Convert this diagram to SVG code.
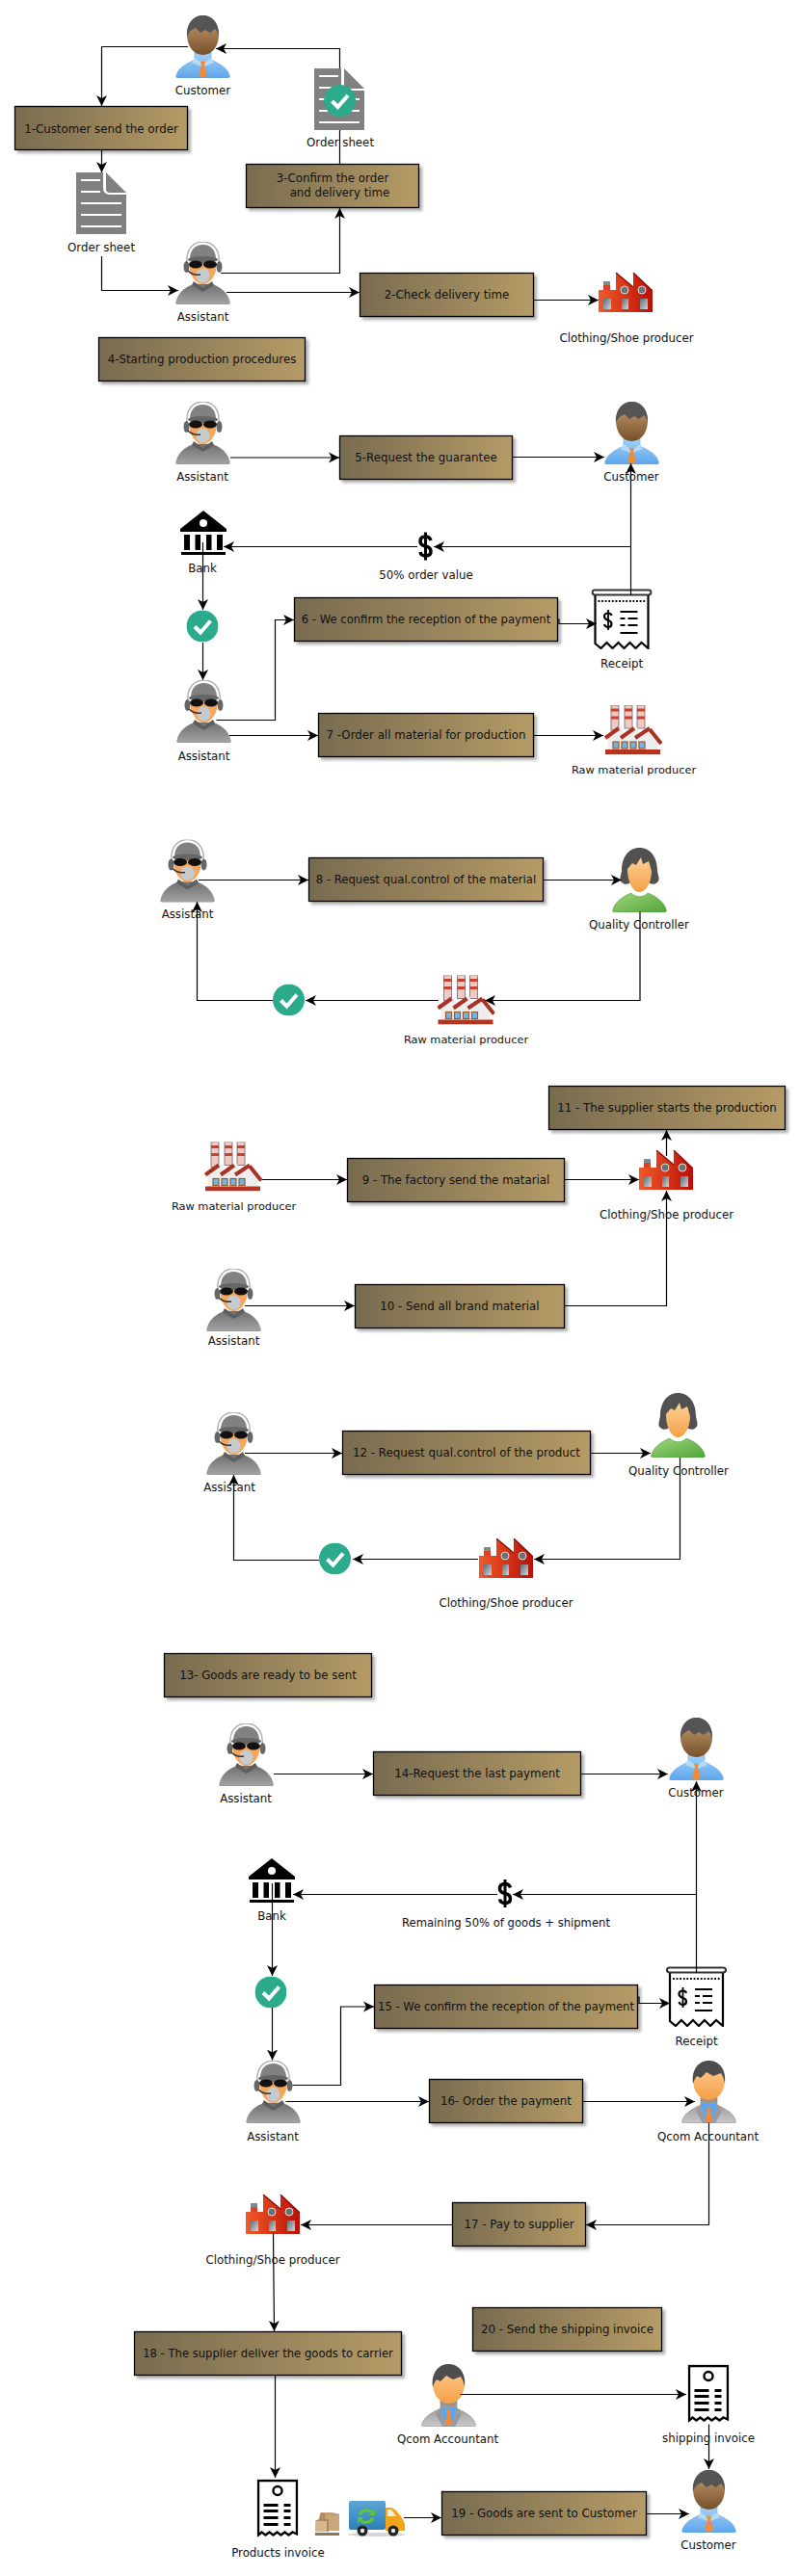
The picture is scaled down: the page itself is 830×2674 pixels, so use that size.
<svg xmlns="http://www.w3.org/2000/svg" width="830" height="2674" viewBox="0 0 830 2674">
<style>
text{font-family:"DejaVu Sans","Liberation Sans",sans-serif;font-size:11.8px;fill:#111;text-anchor:middle}
text.s{font-size:11.6px}
text.r{font-size:11.35px}
.box{fill:url(#boxG);stroke:#000;stroke-width:1.3;filter:url(#sh)}
.e{fill:none;stroke:#000;stroke-width:1.2;marker-end:url(#ah)}
</style>
<defs>
<linearGradient id="boxG"><stop offset="0" stop-color="#786b50"/><stop offset="1" stop-color="#b59b66"/></linearGradient>
<linearGradient id="blue" x1="0" y1="0" x2="0" y2="1"><stop offset="0" stop-color="#a5d2f5"/><stop offset="1" stop-color="#5da5ec"/></linearGradient>
<linearGradient id="brown" x1="0" y1="0" x2="0" y2="1"><stop offset="0" stop-color="#c9a070"/><stop offset="1" stop-color="#76502e"/></linearGradient>
<linearGradient id="orange" x1="0" y1="0" x2="0" y2="1"><stop offset="0" stop-color="#fdd098"/><stop offset="1" stop-color="#f59f45"/></linearGradient>
<linearGradient id="grey" x1="0" y1="0" x2="0" y2="1"><stop offset="0" stop-color="#6f6f6f"/><stop offset="1" stop-color="#a4a4a4"/></linearGradient>
<linearGradient id="jacket" x1="0" y1="0" x2="0" y2="1"><stop offset="0" stop-color="#8d8d8d"/><stop offset="1" stop-color="#c8c8c8"/></linearGradient>
<linearGradient id="green" x1="0" y1="0" x2="1" y2="1"><stop offset="0" stop-color="#a3d57c"/><stop offset="1" stop-color="#4ea53a"/></linearGradient>
<linearGradient id="red" x1="0" y1="0" x2="1" y2="0"><stop offset="0" stop-color="#f05a28"/><stop offset="1" stop-color="#b90f08"/></linearGradient>
<linearGradient id="pane" x1="0" y1="0" x2="1" y2="1"><stop offset="0" stop-color="#5d6b74"/><stop offset="1" stop-color="#cfd8dc"/></linearGradient>
<linearGradient id="cargo" x1="0" y1="0" x2="0" y2="1"><stop offset="0" stop-color="#5aa5d4"/><stop offset="1" stop-color="#2f7fb5"/></linearGradient>
<filter id="sh" x="-5%" y="-10%" width="112%" height="135%"><feDropShadow dx="3" dy="3" stdDeviation="1.8" flood-color="#000" flood-opacity=".3"/></filter>
<marker id="ah" markerUnits="userSpaceOnUse" markerWidth="12" markerHeight="12" viewBox="0 0 12 12" refX="11" refY="6" orient="auto"><path d="M0 .5 11 6 0 11.500 3 6Z" fill="#000"/></marker>

<symbol id="customer" viewBox="0 0 57 65">
<path d="M1 62C3 54 12 50 20 46V38H37V46C45 50 54 54 56 62 57 64 56 65 54 65H3C1 65 0 64 1 62Z" fill="url(#blue)" stroke="#6aa5dc" stroke-width=".6"/>
<path d="M20 44 28.500 50 37 44 40 49 30 53H27L17 49Z" fill="#b5daf6"/>
<path d="M26 48H31L30 52 33 62 28.500 65 24 62 27 52Z" fill="#f08a3c"/>
<path d="M12 20C12 8 19 0 28.500 0S45 8 45 20C45 32 38 41 28.500 41S12 32 12 20Z" fill="url(#brown)"/>
<path d="M12 22C11 8 19 0 28.500 0S46 8 45 22C44 18 43 16 41 14L36 18 31 15 26 18 21 13 17 15C14 17 13 20 12 22Z" fill="#555"/>
</symbol>
<symbol id="accountant" viewBox="0 0 57 65">
<path d="M1 62C3 54 12 50 20 46V38H37V46C45 50 54 54 56 62 57 64 56 65 54 65H3C1 65 0 64 1 62Z" fill="url(#jacket)" stroke="#888" stroke-width=".6"/>
<path d="M20 45H37L33 65H24Z" fill="#5da5ec"/>
<path d="M20 45 15 52 22 65H24ZM37 45 42 52 35 65H33Z" fill="#9a9a9a"/>
<path d="M26 48H31L30 52 33 62 28.500 65 24 62 27 52Z" fill="#f08a3c"/>
<path d="M12 20C12 8 19 0 28.500 0S45 8 45 20C45 32 38 41 28.500 41S12 32 12 20Z" fill="url(#orange)"/>
<path d="M12 24C10 8 19 0 28.500 0S47 8 45 24C44 19 43 16 41 13L33 16 26 12 20 18 16 16C14 18 13 21 12 24Z" fill="#4d4d4d"/>
</symbol>
<symbol id="qc" viewBox="0 0 57 67">
<path d="M1 64C3 56 12 50 20 47 24 52 33 52 37 47 45 50 54 56 56 64 57 66 56 67 54 67H3C1 67 0 66 1 64Z" fill="url(#green)" stroke="#4c9a3a" stroke-width=".6"/>
<path d="M28.500 0C40 0 47 10 47 24 48 30 50 33 47 36 42 40 38 36 38 36H19S15 40 10 36C7 33 9 30 10 24 10 10 17 0 28.500 0Z" fill="#515151"/>
<path d="M16 22 21 16 25 18 30 10 32 17 38 14 41 24C41 36 35 46 28.500 46S16 36 16 22Z" fill="url(#orange)"/>
</symbol>
<symbol id="assistant" viewBox="0 0 57 65">
<path d="M1 62C3 52 12 46 20 44H37C45 46 54 52 56 62 57 64 56 65 54 65H3C1 65 0 64 1 62Z" fill="url(#grey)" stroke="#777" stroke-width=".5"/>
<path d="M19 41 28.500 48 38 41 40 45 28.500 52 17 45Z" fill="#5e5e5e"/>
<path d="M12 24C10 6 20 0 28.500 0S47 6 45 24" fill="none" stroke="#b0b0b0" stroke-width="1.400"/>
<ellipse cx="11.500" cy="26" rx="3" ry="6" fill="#666"/><ellipse cx="45.500" cy="26" rx="3" ry="6" fill="#666"/>
<path d="M15 22V30C17 38 23 44 28.500 44S40 38 42 30V22Z" fill="#f5a65a"/>
<path d="M15 18C15 8 21 3 28.500 3S42 8 42 18Z" fill="#818181"/>
<ellipse cx="28.500" cy="18.500" rx="15.500" ry="3.500" fill="#666"/>
<ellipse cx="21" cy="23.500" rx="7" ry="4" fill="#111"/><ellipse cx="36" cy="23.500" rx="7" ry="4" fill="#111"/>
<ellipse cx="28.500" cy="35" rx="7" ry="7.500" fill="#c4ccd0"/>
<path d="M13 30C16 33 21 35 26 34" fill="none" stroke="#333" stroke-width="1.500"/>
</symbol>
<symbol id="factory" viewBox="0 0 56 41">
<rect x="5" y="9" width="7" height="10" fill="#7d8a90"/><rect x="5" y="13" width="7" height="6" fill="#d9432a"/>
<path d="M0 18H18V0L36 15V0L56 19V41H0Z" fill="url(#red)"/>
<path d="M18 0 36 15M36 0 56 19" stroke="#8a0d05" stroke-width="1.300" fill="none"/>
<circle cx="27" cy="18" r="4" fill="#66747a" stroke="#ddd" stroke-width="1"/><circle cx="45" cy="18" r="4" fill="#66747a" stroke="#ddd" stroke-width="1"/>
<rect x="5" y="27" width="8" height="11" fill="url(#pane)"/><rect x="24" y="27" width="7" height="11" fill="url(#pane)"/><rect x="43" y="27" width="8" height="11" fill="url(#pane)"/>
</symbol>
<symbol id="raw" viewBox="0 0 60 51">
<g stroke="#667" stroke-width=".8"><rect x="7" y="0" width="8" height="26" fill="#f2c9c0"/><rect x="21" y="0" width="8" height="24" fill="#f2c9c0"/><rect x="34" y="0" width="8" height="24" fill="#f2c9c0"/></g>
<path d="M7 5H15M7 13H15M21 5H29M21 13H29M34 5H42M34 13H42" stroke="#c8402f" stroke-width="3"/>
<path d="M4 31 18 22 20 30 34 22 36 30 48 22 55 34V46H4Z" fill="#eeeeee"/>
<path d="M1 34 15 24M17 34 31 24M32 34 47 24M47 25 59 40" stroke="#a93224" stroke-width="4" fill="none"/>
<g fill="#6db5ea" stroke="#9a5a2a" stroke-width="1.200"><rect x="9" y="38" width="6" height="7"/><rect x="18" y="38" width="6" height="7"/><rect x="27" y="38" width="6" height="7"/><rect x="36" y="38" width="6" height="7"/></g>
<rect x="1" y="46" width="57" height="5" fill="#b5341f"/>
</symbol>
<symbol id="doc" viewBox="0 0 52 64">
<path d="M0 0H28V16Q28 23 35 23H52V64H0Z" fill="#808080"/><path d="M31 0 52 21H35Q31 21 31 17Z" fill="#808080"/>
<path d="M5 8H25M5 20H25M5 32H47M5 44H47M5 56H47" stroke="#fff" stroke-width="2.200"/>
</symbol>
<symbol id="check" viewBox="0 0 33 33">
<circle cx="16.500" cy="16.500" r="16.500" fill="#2bab8c"/><path d="M8.500 17 14.500 23 25 11" fill="none" stroke="#fff" stroke-width="4"/>
</symbol>
<symbol id="bank" viewBox="0 0 48 46">
<path d="M24 0 48 19V22H0V19ZM4 25H10V41H4ZM15.500 25H21V41H15.500ZM27 25H32.500V41H27ZM38 25H44V41H38ZM1 43H47V46H1Z" fill="#000"/><circle cx="24" cy="13" r="4" fill="#fff"/>
</symbol>
<symbol id="dollar" viewBox="0 0 17 31">
<path d="M14 9.500C13 6.500 11 5.500 8.500 5.500 5 5.500 3 7.500 3 10.500 3 14 6 15 8.500 15.500 11 16 14 17.500 14 21 14 24 12 25.500 8.500 25.500 6 25.500 3.500 24.500 3 21.500" fill="none" stroke="#000" stroke-width="3.500"/><path d="M8.500 1V30" stroke="#000" stroke-width="3"/>
</symbol>
<symbol id="receipt" viewBox="0 0 63 63">
<path d="M4 5V57L10 62 16 56 22 62 28 56 34 62 40 56 46 62 52 56 59 62V5Z" fill="#fff" stroke="#000" stroke-width="2.200"/>
<rect x="1" y="1.500" width="61" height="5" rx="2.500" fill="#fff" stroke="#333" stroke-width="2.200"/>
<path d="M7 13H56" stroke="#000" stroke-width="1.800" stroke-dasharray="1.800 1.800"/>
<path d="M21 28C20.500 26 19 25.500 17.500 25.500 15 25.500 13.500 27 13.500 29 13.500 31.500 15.500 32 17.500 33 19.500 33.500 21 34.500 21 36.500 21 38.500 19.500 40 17.500 40 15.500 40 14 39 13.500 37" fill="none" stroke="#000" stroke-width="2.200"/><path d="M17.500 22V43" stroke="#000" stroke-width="1.800"/>
<path d="M30 24H48M30 31H35M38 31H48M30 38H35M38 38H48M30 46H48" stroke="#000" stroke-width="2" fill="none"/>
</symbol>
<symbol id="invoice" viewBox="0 0 43 60">
<path d="M1.500 1.500H41.500V57L37 55 33 58 29 55 25 58 21 55 17 58 13 55 9 58 5 55 1.500 58Z" fill="#fff" stroke="#000" stroke-width="2.400"/>
<circle cx="21.500" cy="12" r="4.500" fill="none" stroke="#000" stroke-width="2.400"/>
<path d="M7 27H22M7 33H22M7 40H22M7 47H22M28 27H35M28 33H35M28 40H35M28 47H35" stroke="#000" stroke-width="2.800"/>
</symbol>
<symbol id="truck" viewBox="0 0 60 37">
<ellipse cx="30" cy="35" rx="30" ry="2" fill="#d5d5d5"/>
<rect x="1" y="0" width="38" height="30" rx="2" fill="url(#cargo)"/>
<path d="M39 7H45C49 8 56 16 59 24V31H39Z" fill="#f0a51a"/><path d="M41 9H45L50 16H41Z" fill="#f4eee0"/>
<path d="M11 14C12 8 22 6 26 11L28 8V15H21L24 13C21 10 15 11 14 15ZM27 18C26 24 16 26 12 21L10 24V17H17L14 19C17 22 23 21 24 17Z" fill="#62c43a"/>
<circle cx="15" cy="31" r="5.500" fill="#222"/><circle cx="15" cy="31" r="2.200" fill="#eee"/><circle cx="47" cy="31" r="5.500" fill="#222"/><circle cx="47" cy="31" r="2.200" fill="#eee"/>
</symbol>
<symbol id="boxes" viewBox="0 0 25 25">
<path d="M4 9 6 1H18L25 3V20H14V9Z" fill="#c9a67c"/><path d="M6 1 10 3V13H4V9ZM10 3H25" fill="#b38d62" stroke="#a98458" stroke-width=".5"/>
<path d="M0 10H12V21H0Z" fill="#d8b68c"/><path d="M0 10 4 8H14L12 10ZM12 10 14 8V21H12Z" fill="#ad8659"/>
<path d="M0 22H25V25H0Z" fill="#8d7557"/>
</symbol>
</defs>
<rect width="830" height="2674" fill="#fff"/>

<g id="nodes">
<g id="n-customer-1"><use href="#customer" x="182" y="16" width="57" height="65"/><text x="210.500" y="98">Customer</text></g>
<g id="n-step-1"><rect class="box" x="15.500" y="110.500" width="179" height="45"/><text x="105" y="137.500">1-Customer send the order</text></g>
<g id="n-order-1"><use href="#doc" x="79" y="179" width="52" height="64"/><text x="105" y="261">Order sheet</text></g>
<g id="n-assistant-1"><use href="#assistant" x="182" y="251" width="57" height="65"/><text x="210.500" y="333">Assistant</text></g>
<g id="n-step-3"><rect class="box" x="255.500" y="170.500" width="179" height="45"/><text><tspan x="345" y="189">3-Confirm the order</tspan><tspan x="352.500" y="204">and delivery time</tspan></text></g>
<g id="n-step-2"><rect class="box" x="373.500" y="283.500" width="180" height="45"/><text x="463.500" y="310">2-Check delivery time</text></g>
<g id="n-clothing-1"><use href="#factory" x="621" y="283" width="56" height="41"/><text x="650" y="355">Clothing/Shoe producer</text></g>
<g id="n-step-4"><rect class="box" x="102.500" y="350.500" width="214" height="45"/><text x="209.500" y="377">4-Starting production procedures</text></g>

<g id="n-assistant-2"><use href="#assistant" x="182" y="417" width="57" height="65"/><text x="210" y="499">Assistant</text></g>
<g id="n-step-5"><rect class="box" x="352.500" y="452.500" width="179" height="45"/><text x="442" y="479">5-Request the guarantee</text></g>
<g id="n-customer-2"><use href="#customer" x="627" y="417" width="57" height="65"/><text x="655" y="499">Customer</text></g>
<g id="n-bank-1"><use href="#bank" x="187" y="530" width="48" height="46"/><text x="210" y="594">Bank</text></g>
<g id="n-dollar-1"><use href="#dollar" x="433" y="551.500" width="17" height="31"/><text x="442" y="601">50% order value</text></g>
<g id="n-check-1"><use href="#check" x="193.500" y="633.500" width="33" height="33"/></g>
<g id="n-step-6"><rect class="box" x="305.500" y="620.500" width="273" height="45"/><text class="s" x="442" y="647">6 - We confirm the reception of the payment</text></g>
<g id="n-receipt-1"><use href="#receipt" x="613.500" y="611" width="63" height="63"/><text x="645" y="693">Receipt</text></g>
<g id="n-assistant-3"><use href="#assistant" x="183" y="706" width="57" height="65"/><text x="211.500" y="789">Assistant</text></g>
<g id="n-step-7"><rect class="box" x="330.500" y="740.500" width="223" height="45"/><text x="442" y="767">7 -Order all material for production</text></g>
<g id="n-raw-1"><use href="#raw" x="627" y="732" width="60" height="51"/><text class="r" x="657.500" y="803">Raw material producer</text></g>

<g id="n-assistant-4"><use href="#assistant" x="166" y="871.500" width="57" height="65"/><text x="194.500" y="953">Assistant</text></g>
<g id="n-step-8"><rect class="box" x="320.500" y="890.500" width="243" height="45"/><text class="s" x="442" y="917">8 - Request qual.control of the material</text></g>
<g id="n-qc-1"><use href="#qc" x="635" y="880" width="57" height="67"/><text x="663" y="964">Quality Controller</text></g>
<g id="n-raw-2"><use href="#raw" x="453.500" y="1012.500" width="60" height="51"/><text class="r" x="483.500" y="1083">Raw material producer</text></g>
<g id="n-check-2"><use href="#check" x="283" y="1021.500" width="33" height="33"/></g>

<g id="n-step-11"><rect class="box" x="569.500" y="1127.500" width="245" height="45"/><text x="692" y="1154">11 - The supplier starts the production</text></g>
<g id="n-raw-3"><use href="#raw" x="212" y="1185.500" width="60" height="51"/><text class="r" x="242.500" y="1256">Raw material producer</text></g>
<g id="n-step-9"><rect class="box" x="360.500" y="1202.500" width="225" height="45"/><text x="473" y="1229">9 - The factory send the matarial</text></g>
<g id="n-clothing-2"><use href="#factory" x="663" y="1194" width="56" height="41"/><text x="691.500" y="1265">Clothing/Shoe producer</text></g>
<g id="n-assistant-5"><use href="#assistant" x="214" y="1317" width="57" height="65"/><text x="242.500" y="1396">Assistant</text></g>
<g id="n-step-10"><rect class="box" x="368.500" y="1333.500" width="217" height="45"/><text x="477" y="1360">10 - Send all brand material</text></g>

<g id="n-assistant-6"><use href="#assistant" x="214" y="1466" width="57" height="65"/><text x="238" y="1548">Assistant</text></g>
<g id="n-step-12"><rect class="box" x="355.500" y="1485.500" width="257" height="45"/><text x="484" y="1512">12 - Request qual.control of the product</text></g>
<g id="n-qc-2"><use href="#qc" x="675" y="1446" width="57" height="67"/><text x="704" y="1531">Quality Controller</text></g>
<g id="n-clothing-3"><use href="#factory" x="497" y="1597" width="56" height="41"/><text x="525" y="1668">Clothing/Shoe producer</text></g>
<g id="n-check-3"><use href="#check" x="331" y="1601.500" width="33" height="33"/></g>

<g id="n-step-13"><rect class="box" x="170.500" y="1716.500" width="215" height="45"/><text x="278" y="1743">13- Goods are ready to be sent</text></g>
<g id="n-assistant-7"><use href="#assistant" x="227" y="1789" width="57" height="65"/><text x="255" y="1871">Assistant</text></g>
<g id="n-step-14"><rect class="box" x="387.500" y="1818.500" width="215" height="45"/><text x="495" y="1845">14-Request the last payment</text></g>
<g id="n-customer-3"><use href="#customer" x="694" y="1783" width="57" height="65"/><text x="722" y="1865">Customer</text></g>
<g id="n-bank-2"><use href="#bank" x="258" y="1929" width="48" height="46"/><text x="282" y="1993">Bank</text></g>
<g id="n-dollar-2"><use href="#dollar" x="515.500" y="1950" width="17" height="31"/><text class="s" x="525" y="2000">Remaining 50% of goods + shipment</text></g>
<g id="n-check-4"><use href="#check" x="264.500" y="2051.500" width="33" height="33"/></g>
<g id="n-step-15"><rect class="box" x="388.500" y="2060.500" width="273" height="45"/><text class="s" x="525" y="2087">15 - We confirm the reception of the payment</text></g>
<g id="n-receipt-2"><use href="#receipt" x="691" y="2041" width="63" height="63"/><text x="722.500" y="2123">Receipt</text></g>
<g id="n-assistant-8"><use href="#assistant" x="255" y="2139" width="57" height="65"/><text x="283" y="2222">Assistant</text></g>
<g id="n-step-16"><rect class="box" x="445.500" y="2158.500" width="159" height="45"/><text x="525" y="2185">16- Order the payment</text></g>
<g id="n-accountant-1"><use href="#accountant" x="707" y="2139" width="57" height="65"/><text x="734.500" y="2222">Qcom Accountant</text></g>
<g id="n-step-17"><rect class="box" x="469.500" y="2286.500" width="138" height="45"/><text x="538.500" y="2313">17 - Pay to supplier</text></g>
<g id="n-clothing-4"><use href="#factory" x="255" y="2278" width="56" height="41"/><text x="283" y="2350">Clothing/Shoe producer</text></g>
<g id="n-step-18"><rect class="box" x="139.500" y="2420.500" width="277" height="45"/><text class="s" x="278" y="2447">18 - The supplier deliver the goods to carrier</text></g>
<g id="n-step-20"><rect class="box" x="490.500" y="2395.500" width="196" height="45"/><text x="588.500" y="2422">20 - Send the shipping invoice</text></g>
<g id="n-accountant-2"><use href="#accountant" x="437" y="2454" width="57" height="65"/><text x="464.500" y="2536">Qcom Accountant</text></g>
<g id="n-invoice-2"><use href="#invoice" x="713.500" y="2454.500" width="43" height="60"/><text x="735" y="2535">shipping invoice</text></g>
<g id="n-invoice-1"><use href="#invoice" x="266.500" y="2573.500" width="43" height="60"/><text x="288.500" y="2654">Products invoice</text></g>
<g id="n-boxes"><use href="#boxes" x="327" y="2607" width="25" height="25"/></g>
<g id="n-truck"><use href="#truck" x="361" y="2596" width="60" height="37"/></g>
<g id="n-step-19"><rect class="box" x="458.500" y="2586.500" width="212" height="45"/><text x="564.500" y="2613">19 - Goods are sent to Customer</text></g>
<g id="n-customer-4"><use href="#customer" x="707" y="2564" width="57" height="65"/><text x="735" y="2646">Customer</text></g>
</g>

<g id="connectors">
<path class="e" d="M195 48.500H105.500V110"/>
<path class="e" d="M105.500 155.500V179"/>
<path class="e" d="M105.500 266V301.500H185"/>
<path class="e" d="M229 283.500H352.500V216"/>
<path class="e" d="M352.500 170V50.500H224"/>
<path class="e" d="M235 303.500H373"/>
<path class="e" d="M553.500 311.500H621"/>

<path class="e" d="M239 475H352"/>
<path class="e" d="M531.500 474.500H627"/>
<path class="e" d="M654.500 618V481"/>
<path class="e" d="M654.500 567.500H450"/>
<path class="e" d="M433 567.500H232"/>
<path class="e" d="M210.500 563V633"/>
<path class="e" d="M210.500 667V706"/>
<path class="e" d="M224.500 747.500H285.500V643.500H305"/>
<path class="e" d="M578.500 643H580V647.500H619"/>
<path class="e" d="M238 763.500H330"/>
<path class="e" d="M553.500 763.500H626"/>

<path class="e" d="M206 913.500H320"/>
<path class="e" d="M564 913.500H645"/>
<path class="e" d="M664 946.500V1038.500H503"/>
<path class="e" d="M455 1038.500H317"/>
<path class="e" d="M283 1038.500H204.500V936"/>

<path class="e" d="M272 1224.500H360"/>
<path class="e" d="M585.500 1224.500H663"/>
<path class="e" d="M691.500 1200V1173"/>
<path class="e" d="M254 1355.500H368"/>
<path class="e" d="M585.500 1355.500H691.500V1236"/>

<path class="e" d="M254 1508.500H355"/>
<path class="e" d="M612.500 1508.500H675"/>
<path class="e" d="M705.500 1513V1618.500H554"/>
<path class="e" d="M496 1618.500H366"/>
<path class="e" d="M331 1619.500H242.500V1531"/>

<path class="e" d="M284 1841.500H387"/>
<path class="e" d="M602.500 1841.500H693"/>
<path class="e" d="M722.500 2048V1849"/>
<path class="e" d="M722.500 1966.500H532"/>
<path class="e" d="M516 1966.500H304"/>
<path class="e" d="M282.500 1955V2051"/>
<path class="e" d="M282.500 2084V2138.500"/>
<path class="e" d="M303.500 2164.500H353.500V2083H388"/>
<path class="e" d="M661.500 2073H663V2079.500H695"/>
<path class="e" d="M296.500 2181.500H445"/>
<path class="e" d="M604.500 2181.500H721"/>
<path class="e" d="M735.500 2203.500V2309.500H608"/>
<path class="e" d="M469.500 2309.500H312"/>
<path class="e" d="M283.500 2318 284.500 2420"/>
<path class="e" d="M285.500 2465.500V2572"/>
<path class="e" d="M419 2613.500H458"/>
<path class="e" d="M670.500 2609.500H715"/>
<path class="e" d="M477.500 2485.500H712"/>
<path class="e" d="M735.500 2516.500V2563"/>
</g>

<g id="n-order-2"><use href="#doc" x="326" y="71" width="52" height="64"/><use href="#check" x="336" y="88" width="33" height="33"/><text x="353" y="152">Order sheet</text></g>
</svg>
